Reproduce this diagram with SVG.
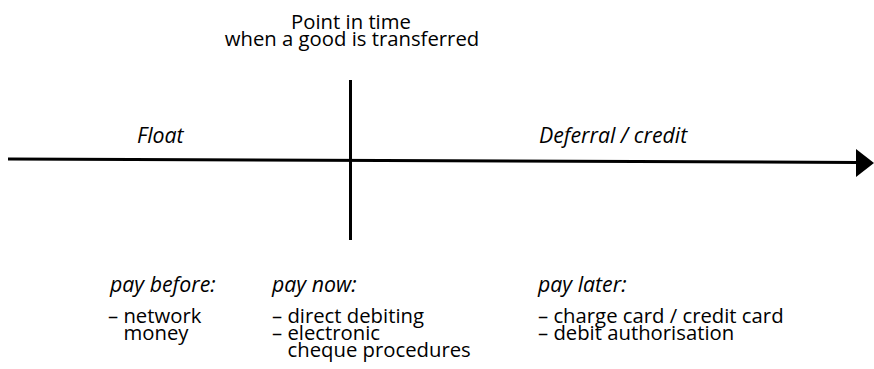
<svg xmlns="http://www.w3.org/2000/svg" width="874" height="369" viewBox="0 0 874 369">
<style>
  text { font-family: "Open Sans", "Liberation Sans", sans-serif; font-size: 20.3px; fill: #000; }
  .it { font-style: italic; font-size: 21.3px; }
  .ln { stroke: #000; stroke-width: 3; fill: none; }
</style>
<rect width="874" height="369" fill="#fff"/>
<g id="connectors">
  <line class="ln" x1="8" y1="159" x2="858" y2="162.5"/>
  <polygon points="856,149 874,163 856,177" fill="#000"/>
  <line class="ln" x1="350.5" y1="80" x2="350.5" y2="240"/>
</g>
<g id="title">
  <text x="351" y="29" text-anchor="middle">Point in time</text>
  <text x="352" y="46" text-anchor="middle">when a good is transferred</text>
</g>
<g id="float"><text class="it" x="137" y="143">Float</text></g>
<g id="deferral"><text class="it" x="539" y="143">Deferral / credit</text></g>
<g id="pay-before">
  <text class="it" x="110" y="292">pay before:</text>
  <text x="108" y="323">– network</text>
  <text x="123.5" y="340">money</text>
</g>
<g id="pay-now">
  <text class="it" x="272" y="292">pay now:</text>
  <text x="272" y="323">– direct debiting</text>
  <text x="272" y="340">– electronic</text>
  <text x="287.5" y="357">cheque procedures</text>
</g>
<g id="pay-later">
  <text class="it" x="538" y="292">pay later:</text>
  <text x="538" y="323">– charge card / credit card</text>
  <text x="538" y="340">– debit authorisation</text>
</g>
</svg>
